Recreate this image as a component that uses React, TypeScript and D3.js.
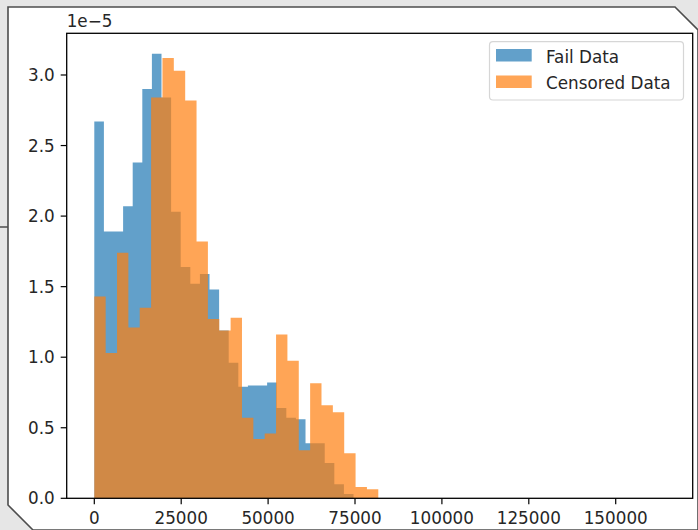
import React from "react";
import * as d3 from "d3";

// Histogram densities (units of 1e-5)
const failDensity = [
  2.67, 1.89, 1.89, 2.07, 2.38, 2.9, 3.15, 2.84, 2.03, 1.64, 1.52, 1.59, 1.48, 1.19,
  0.96, 0.79, 0.8, 0.8, 0.82, 0.64, 0.57, 0.56, 0.39, 0.39, 0.25, 0.1, 0.03,
];
const censoredDensity = [
  1.43, 1.03, 1.74, 1.21, 1.35, 2.84, 3.12, 3.03, 2.82, 1.82, 1.27, 1.19, 1.28, 0.57,
  0.42, 0.46, 1.16, 0.975, 0.34, 0.815, 0.66, 0.61, 0.32, 0.08, 0.064,
];
const failBinStart = 0;
const failBinWidth = 2762;
const censoredBinStart = 0;
const censoredBinWidth = 3268;

const xTicks = [0, 25000, 50000, 75000, 100000, 125000, 150000];
const yTicks = [0, 0.5, 1.0, 1.5, 2.0, 2.5, 3.0];
const seriesNames = ["Fail Data", "Censored Data"];
const seriesColors = ["#1f77b4", "#ff7f0e"];

const W = 698;
const H = 530;
const plot = { left: 66.7, right: 692.7, top: 33.3, bottom: 498.3 };
const FONT = "'DejaVu Sans', sans-serif";
const FS = 16.8;

export default function App() {
  const x = d3.scaleLinear().domain([-7940, 172150]).range([plot.left, plot.right]);
  const y = d3.scaleLinear().domain([0, 3.2955]).range([plot.bottom, plot.top]);

  const bars = (vals: number[], start: number, width: number, color: string, key: string) => {
    const pts: string[] = [];
    vals.forEach((v, i) => {
      const x0 = x(start + i * width);
      const x1 = x(start + (i + 1) * width);
      if (i === 0) pts.push(`M${x0},${y(0)}`);
      pts.push(`L${x0},${y(v)}`, `L${x1},${y(v)}`);
      if (i === vals.length - 1) pts.push(`L${x1},${y(0)}Z`);
    });
    return <path key={key} d={pts.join("")} fill={color} fillOpacity={0.7} />;
  };

  const frame = `M8,7 L675,7 L698,30 L698,530 L33,530 L8,505 Z`;

  return (
    <svg
      width={W}
      height={H}
      style={{ position: "absolute", left: 0, top: 0, display: "block" }}
      fontFamily={FONT}
    >
      <rect x={0} y={0} width={W} height={H} fill="#e6e6e6" />
      <line x1={0} y1={227} x2={8} y2={227} stroke="#4d4d4d" strokeWidth={1.5} />
      <path d={frame} fill="#ffffff" stroke="#4d4d4d" strokeWidth={1.6} />

      {bars(failDensity, failBinStart, failBinWidth, seriesColors[0], "f")}
      {bars(censoredDensity, censoredBinStart, censoredBinWidth, seriesColors[1], "c")}

      {/* spines */}
      <rect
        x={plot.left}
        y={plot.top}
        width={plot.right - plot.left}
        height={plot.bottom - plot.top}
        fill="none"
        stroke="#000"
        strokeWidth={1.3}
      />

      {/* x ticks */}
      {xTicks.map((t) => (
        <g key={"xt" + t}>
          <line x1={x(t)} x2={x(t)} y1={plot.bottom} y2={plot.bottom + 6} stroke="#000" strokeWidth={1.2} />
          <text x={x(t)} y={plot.bottom + 25.5} textAnchor="middle" fontSize={FS} fill="#262626">
            {t}
          </text>
        </g>
      ))}

      {/* y ticks */}
      {yTicks.map((t) => (
        <g key={"yt" + t}>
          <line x1={plot.left - 6} x2={plot.left} y1={y(t)} y2={y(t)} stroke="#000" strokeWidth={1.2} />
          <text x={plot.left - 12} y={y(t) + 6} textAnchor="end" fontSize={FS} fill="#262626">
            {t.toFixed(1)}
          </text>
        </g>
      ))}

      <text x={plot.left} y={26.5} fontSize={FS} fill="#262626">
        1e−5
      </text>

      {/* legend */}
      <rect x={489.5} y={41.7} width={194} height={58.3} rx={3.5} fill="#ffffff" fillOpacity={0.8} stroke="#d6d6d6" strokeWidth={1.2} />
      {seriesNames.map((name, i) => (
        <g key={name}>
          <rect x={496} y={49 + i * 26.5} width={35.7} height={12.5} fill={seriesColors[i]} fillOpacity={0.7} />
          <text x={546} y={62.5 + i * 26.5} fontSize={FS} fill="#262626">
            {name}
          </text>
        </g>
      ))}
    </svg>
  );
}
